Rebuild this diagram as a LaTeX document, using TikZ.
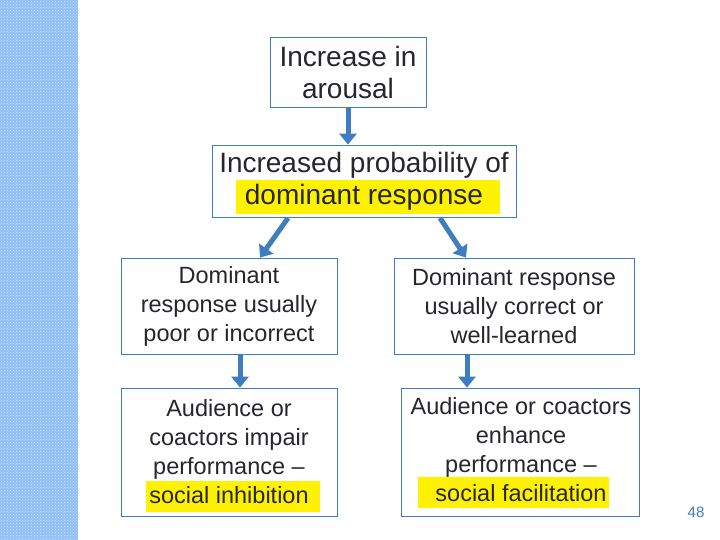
\documentclass[tikz,border=0pt]{standalone}
\usepackage{fontspec}
\setmainfont{Liberation Sans}
\usetikzlibrary{arrows.meta,patterns}
\definecolor{strip}{HTML}{8FBFF5}
\definecolor{bx}{HTML}{3E7EC0}
\definecolor{tx}{HTML}{262630}
\begin{document}
\begin{tikzpicture}[x=1pt,y=-1pt,
  box/.style={draw=bx,line width=0.8pt,text=tx,align=center,inner sep=0pt},
  big/.style={font=\fontsize{28}{32}\selectfont},
  small/.style={font=\fontsize{23.5}{29}\selectfont},
  arr/.style={draw=bx,line width=5pt,-{Triangle[length=11pt,width=17pt]}}]
\useasboundingbox (0,0) rectangle (720,540);
\fill[white] (0,0) rectangle (720,540);
\fill[strip] (0,0) rectangle (78,540);
\pattern[pattern=crosshatch dots,pattern color=white!60!strip] (0,0) rectangle (78,540);
% highlights
\fill[yellow] (236,180) rectangle (500,214);
\fill[yellow] (146,481) rectangle (320,512);
\fill[yellow] (418,477) rectangle (609,508);
\node[box,big,minimum width=156pt,minimum height=70pt] (a) at (348,72) {Increase in\\arousal};
\node[box,big,minimum width=304pt,minimum height=72pt] (b) at (364,181) {Increased probability of\\dominant response};
\node[box,small,minimum width=216pt,minimum height=96pt] (c) at (229,306) {Dominant\\response usually\\poor or incorrect};
\node[box,small,minimum width=240pt,minimum height=96pt] (d) at (514,306) {Dominant response\\usually correct or\\well-learned};
\node[box,small,minimum width=216pt,minimum height=128pt] (e) at (229,452) {Audience or\\coactors impair\\performance --\\social inhibition};
\node[box,minimum width=238pt,minimum height=128pt] (f) at (520,452) {};
\node[text=tx,small,align=center] (ft) at (521,450) {Audience or coactors\\enhance\\performance --\\social facilitation};
\node[text=bx,font=\fontsize{15}{18}\selectfont] (n) at (696,512) {48};
\draw[arr] (a.south -| 348,0) -- (b.north -| 348,0);
\draw[arr] (288,218) -- (c.north -| 260,0);
\draw[arr] (440,218) -- (d.north -| 466,0);
\draw[arr] (c.south -| 240,0) -- (e.north -| 240,0);
\draw[arr] (d.south -| 467,0) -- (f.north -| 467,0);
\end{tikzpicture}
\end{document}
